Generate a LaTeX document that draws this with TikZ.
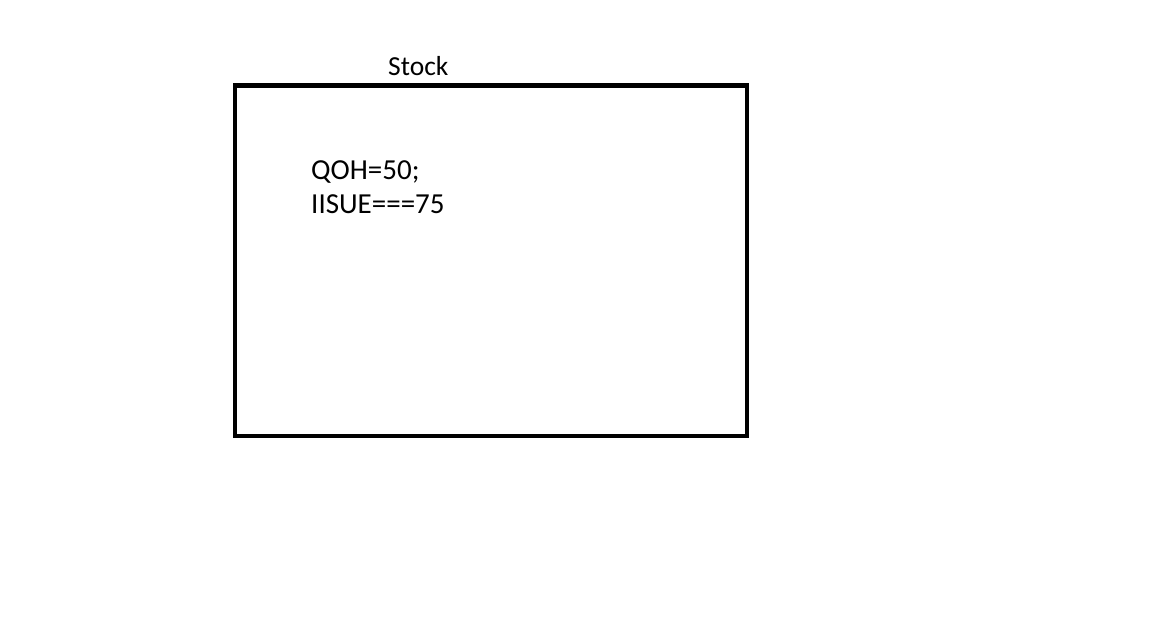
\documentclass[tikz,border=0pt]{standalone}
\usepackage{fontspec}
\setmainfont{Carlito}
\usetikzlibrary{positioning}

\begin{document}
\begin{tikzpicture}[x=1pt, y=-1pt]
    % Parametri
    \pgfmathsetmacro{\bordo}{4.5}
    \useasboundingbox (0,0) rectangle (1152,639);
    % Riquadro
    \draw[line width=\bordo pt] (235,85.5) rectangle (747,436);
    % Testi
    \node[anchor=base west, inner sep=0pt, font=\fontsize{27.5}{33}\selectfont] (titolo) at (388,76) {Stock};
    \node[anchor=base west, inner sep=0pt, font=\fontsize{29}{34}\selectfont] (qoh) at (311,179.5) {QOH=50;};
    \node[anchor=base west, inner sep=0pt, font=\fontsize{29}{34}\selectfont] (issue) at (311,214) {IISUE===75};
\end{tikzpicture}
\end{document}
